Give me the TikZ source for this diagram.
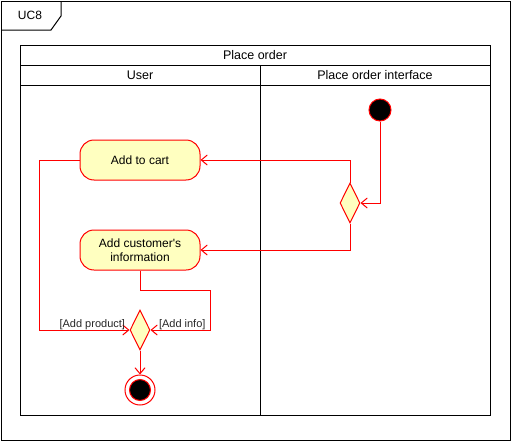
\documentclass[tikz,border=0pt]{standalone}
\usepackage{fontspec}
\setmainfont{Liberation Sans}
\usetikzlibrary{%
    arrows.meta,
    positioning,
    shapes.geometric
}
\definecolor{umlred}{HTML}{FF0000}
\definecolor{umlyellow}{HTML}{FFFFC0}
\tikzset{flowarrow/.style = {umlred, -{Straight Barb[length=6pt,width=10pt]}}}
\tikzset{action/.style = {draw=umlred, fill=umlyellow, rounded corners=14pt,
                          minimum width=120pt, minimum height=40pt, inner sep=0pt, align=center}}
\tikzset{decision/.style = {draw=umlred, fill=umlyellow, diamond,
                            minimum width=20pt, minimum height=40pt, inner sep=0pt}}
\tikzset{initstate/.style = {draw=umlred, fill=black, circle, minimum size=22pt, inner sep=0pt}}
\tikzset{finalring/.style = {draw=umlred, fill=white, circle, minimum size=30pt, inner sep=0pt}}
\tikzset{finaldot/.style = {draw=umlred, fill=black, circle, minimum size=21pt, inner sep=0pt}}
\tikzset{headtext/.style = {font=\fontsize{12.5}{15}\selectfont}}
\tikzset{guard/.style = {text=black!85, font=\fontsize{11}{13}\selectfont, inner sep=1pt}}

\begin{document}
\begin{tikzpicture}[x=1pt, y=-1pt, line width=1pt, font=\fontsize{12}{14.5}\selectfont]
    \useasboundingbox (0,0) rectangle (512,442);

    % frame with tag
    \draw (1,1) rectangle (510,440);
    \draw (1,30) -- (51,30) -- (61,16) -- (61,1);
    \node (tag) at (30,15) {UC8};

    % pool and lanes
    \draw (20,45) rectangle (490,415);
    \draw (20,65) -- (490,65);
    \draw (20,85) -- (490,85);
    \draw (260,65) -- (260,415);
    \node (pool) [headtext] at (255,55) {Place order};
    \node (laneuser) [headtext] at (140,75) {User};
    \node (laneiface) [headtext] at (375,75) {Place order interface};

    \node (start) [initstate] at (380,110) {};
    \node (dec1) [decision] at (350,203) {};
    \node (cart) [action] at (140,160) {Add to cart};
    \node (info) [action] at (140,250) {Add customer\textquotesingle s\\information};
    \node (dec2) [decision] at (140,330) {};
    \node (end) [finalring] at (140,390) {};
    \node (enddot) [finaldot] at (end) {};

    \foreach \Source/\Target in {%
        start/dec1.east,
        dec1.north/cart.east,
        dec1.south/info.east%
    }
        \draw[flowarrow] (\Source) |- (\Target);

    \draw[flowarrow] (cart.west) -- ++(-40,0) |- (dec2.west)
        node[guard, anchor=south east, xshift=-3pt, yshift=-1pt] {[Add product]};
    \draw[flowarrow] (info.south) -- ++(0,20) -- ++(70,0) |- (dec2.east)
        node[guard, anchor=south west, xshift=7pt, yshift=-1pt] {[Add info]};
    \draw[flowarrow] (dec2.south) -- (end.north);
\end{tikzpicture}
\end{document}
